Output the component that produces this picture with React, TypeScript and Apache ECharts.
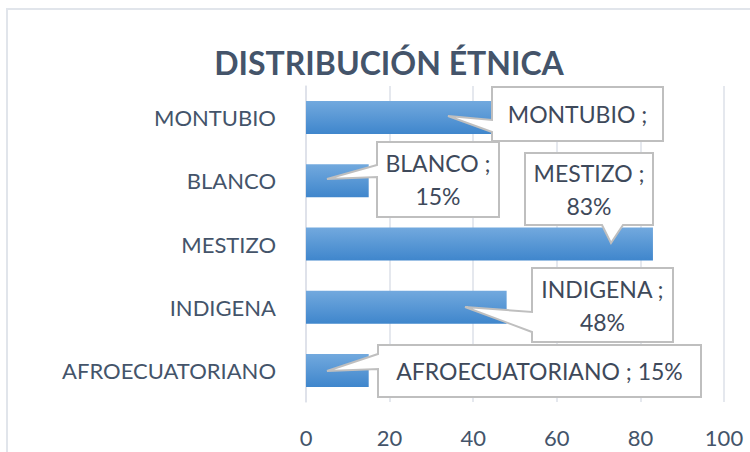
import React, { useEffect, useRef } from "react";
import * as echarts from "echarts";

const categories = ["AFROECUATORIANO", "INDIGENA", "MESTIZO", "BLANCO", "MONTUBIO"];
const values = [15, 48, 83, 15, 45];
const labelTexts = ["AFROECUATORIANO ; 15%", "INDIGENA ;\n48%", "MESTIZO ;\n83%", "BLANCO ;\n15%", "MONTUBIO ;"];
const xTicks = [0, 20, 40, 60, 80, 100];

// callout layout (pixels): box [l, t, r, b], wedge side, wedge base, tip
const callouts = [
  { box: [378, 345, 701, 397], side: "left", base: [354, 369], tip: [327, 371] },
  { box: [532, 268, 673, 342], side: "left", base: [312, 332], tip: [465, 307] },
  { box: [525, 153, 653, 225], side: "bottom", base: [602, 623], tip: [611, 243] },
  { box: [377, 142, 499, 217], side: "left", base: [165, 177], tip: [327, 179] },
  { box: [492, 87, 663, 141], side: "left", base: [120, 132], tip: [448, 116] },
];

const FONT = "Lato, 'Noto Sans', sans-serif";
const TXT = "#44546A";

export default function App() {
  const ref = useRef<HTMLDivElement>(null);
  useEffect(() => {
    if (!ref.current) return;
    const chart = echarts.init(ref.current, null, { renderer: "svg" });
    const graphics: any[] = [
      {
        type: "rect",
        shape: { x: 7, y: 9, width: 800, height: 500 },
        style: { fill: "none", stroke: "#E1E5EB", lineWidth: 2 },
        silent: true,
        z: 0,
      },
    ];
    callouts.forEach((c, i) => {
      const [l, t, r, b] = c.box;
      let pts: number[][];
      if (c.side === "left") {
        pts = [[l, t], [r, t], [r, b], [l, b], [l, c.base[1]], c.tip, [l, c.base[0]]];
      } else {
        pts = [[l, t], [r, t], [r, b], [c.base[1], b], c.tip, [c.base[0], b], [l, b]];
      }
      graphics.push({
        type: "polygon",
        shape: { points: pts },
        style: { fill: "#ffffff", stroke: "#BFBFBF", lineWidth: 2 },
        z: 10,
      });
      graphics.push({
        type: "text",
        x: (l + r) / 2,
        y: (t + b) / 2,
        style: {
          text: labelTexts[i],
          fill: "#3E495A",
          font: `23px ${FONT}`,
          align: "center",
          verticalAlign: "middle",
          lineHeight: 33,
        },
        z: 11,
      });
    });
    chart.setOption({
      animation: false,
      title: {
        text: "DISTRIBUCIÓN ÉTNICA",
        left: 384,
        top: 57,
        textAlign: "center",
        textVerticalAlign: "middle",
        textStyle: { color: TXT, fontSize: 32, fontWeight: "bold", fontFamily: FONT },
      },
      grid: { left: 306, right: 26, top: 86, bottom: 50, containLabel: false },
      xAxis: {
        type: "value",
        min: xTicks[0],
        max: xTicks[xTicks.length - 1],
        interval: 20,
        axisLine: { show: false },
        axisTick: { show: false },
        splitLine: { lineStyle: { color: "#DCE1E8", width: 1.5 } },
        axisLabel: { color: TXT, fontSize: 22, fontFamily: FONT, margin: 24 },
      },
      yAxis: {
        type: "category",
        data: categories,
        axisLine: { show: true, lineStyle: { color: "#DCE1E8", width: 1.5 } },
        axisTick: { show: false },
        axisLabel: { color: TXT, fontSize: 22, fontFamily: FONT, margin: 30 },
      },
      series: [
        {
          type: "bar",
          data: values,
          barWidth: 33,
          itemStyle: {
            color: new echarts.graphic.LinearGradient(0, 0, 0, 1, [
              { offset: 0, color: "#72A9DE" },
              { offset: 1, color: "#3F86CC" },
            ]),
          },
        },
      ],
      graphic: graphics,
    });
    return () => chart.dispose();
  }, []);
  return <div ref={ref} style={{ width: 750, height: 452, position: "absolute", left: 0, top: 0 }} />;
}
